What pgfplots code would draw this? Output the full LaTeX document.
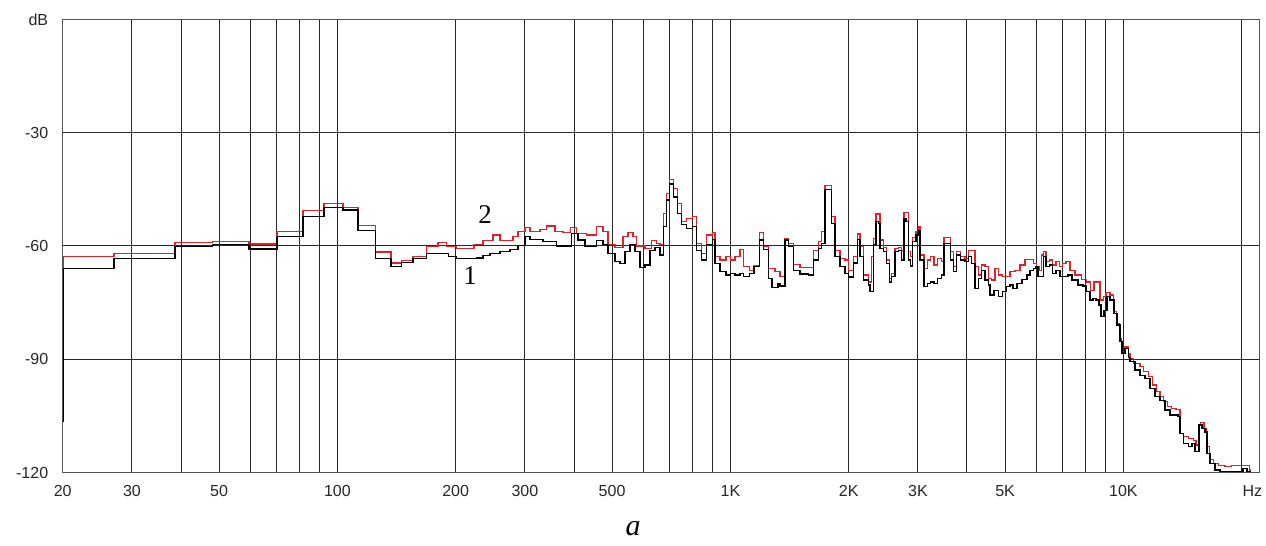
\documentclass[border=0pt]{standalone}
\usepackage{pgfplots}
\pgfplotsset{compat=1.18}
\usepackage{fontspec}
\setmainfont{Liberation Sans}
\newfontfamily\seriffont{Liberation Serif}
\definecolor{cred}{RGB}{220,36,40}
\definecolor{gridc}{RGB}{40,40,40}
\pgfplotstableread{
f db
20 -79
20.1 -62.8
27.0 -61.9
38.6 -59.1
48.2 -58.9
59.6 -59.5
70.2 -56.2
81.7 -50.7
92.5 -48.7
103.3 -49.8
112.8 -54.5
125.0 -61.6
136.9 -64.5
145.8 -63.8
155.7 -62.8
168.7 -60.1
180.3 -59.1
189.8 -60.2
201.2 -60.6
222.6 -59.7
234.7 -58.5
248.9 -57.1
259.3 -58.5
279.8 -57.4
288.1 -56.2
300.2 -55.1
309.1 -56.2
327.8 -55.6
340.9 -54.7
357.9 -56.2
375.1 -56.5
392.4 -55.1
406.4 -56.6
430.9 -57.1
456.9 -54.9
474.1 -56.2
488.2 -59.7
508.6 -60.3
533.0 -57.5
548.9 -56.5
565.2 -57.5
577.6 -60.0
606.4 -60.6
630.6 -58.6
649.3 -59.3
662.0 -59.7
674.9 -51.4
688.5 -46.1
699.1 -42.4
715.6 -44.7
732.6 -48.7
751.8 -53.6
774.1 -52.7
801.8 -52.2
820.8 -59.3
845.2 -61.9
870.4 -57.1
901.5 -56.5
913.7 -62.8
940.9 -63.7
974.5 -62.7
1001.8 -63.7
1027.3 -62.8
1057.8 -60.9
1078.5 -65.5
1117.1 -66.4
1148.3 -65.3
1184.5 -56.5
1212.6 -60.2
1248.6 -65.9
1298.7 -66.8
1337.3 -68.1
1377.1 -58.0
1404.0 -59.3
1445.7 -64.8
1503.6 -65.7
1625.4 -61.1
1673.7 -58.9
1707.4 -56.2
1740.7 -43.9
1810.4 -52.2
1845.8 -61.1
1900.6 -63.3
1957.1 -63.7
1995.3 -66.4
2054.6 -62.8
2103.3 -56.8
2136.8 -60.2
2178.6 -67.7
2243.3 -69.5
2288.4 -62.8
2310.0 -58.0
2346.8 -51.5
2402.4 -58.4
2449.4 -60.3
2498.6 -63.7
2537.0 -68.6
2572.9 -67.2
2623.1 -60.6
2674.3 -60.3
2728.1 -61.1
2765.1 -51.2
2835.6 -61.5
2875.8 -62.8
2909.7 -57.7
2966.5 -56.2
3006.8 -54.9
3036.9 -62.4
3108.9 -65.9
3169.6 -63.7
3233.3 -62.8
3296.5 -65.0
3360.8 -63.3
3448.6 -64.2
3495.3 -57.7
3635.3 -61.5
3691.1 -65.5
3765.4 -61.5
3854.7 -62.8
3953.0 -63.3
4030.1 -61.1
4191.5 -65.5
4273.3 -67.7
4359.3 -65.0
4444.3 -65.5
4531.1 -68.6
4622.2 -69.0
4712.4 -65.9
4804.5 -67.7
4929.9 -68.1
5145.4 -66.8
5298.3 -66.4
5455.8 -65.0
5617.9 -63.5
5897.8 -64.6
6016.6 -65.5
6109.0 -66.4
6195.6 -62.4
6253.9 -61.5
6353.6 -64.2
6477.7 -63.7
6608.0 -65.0
6737.0 -64.2
6868.6 -65.5
7006.6 -64.6
7143.4 -64.2
7312.8 -66.4
7530.2 -67.7
7831.7 -68.8
8064.5 -69.5
8255.5 -71.7
8416.8 -69.5
8718.0 -74.3
8888.2 -73.4
9029.9 -72.4
9244.0 -73.0
9424.5 -77.4
9614.0 -80.5
9761.6 -84.4
9900.0 -88.0
10093.7 -86.7
10290.8 -88.6
10394 -89.7
10597 -91.0
11021 -91.9
11236 -93.3
11570 -94.6
11872 -96.8
12154 -98.6
12391 -99.9
12633 -101.2
12933 -102.5
13270 -103.0
13609 -103.2
13931 -109.6
14203 -110.5
14626 -110.9
15061 -111.4
15301 -112.7
15509 -107.4
15728 -106.8
16035 -108.3
16291 -113.1
16541 -116.6
16933 -117.5
17437 -118.0
18134 -118.4
18860 -118.0
20594 -118.0
20910 -119.3
21120 -119.3
}\redtable
\pgfplotstableread{
f db
20 -106.5
20.1 -65.9
27.0 -63.3
38.6 -60.2
48.2 -59.7
59.6 -60.8
70.2 -57.4
81.7 -52.2
92.5 -49.9
103.3 -50.5
112.8 -55.8
125.0 -63.4
136.9 -65.5
145.8 -64.4
155.7 -63.4
168.7 -61.9
191.9 -62.8
200.4 -63.4
226.2 -63.2
234.7 -62.5
244.5 -61.9
259.3 -61.4
274.9 -60.9
288.1 -59.8
300.2 -57.5
309.1 -58.2
333.6 -58.9
361.4 -60.0
394.7 -56.6
409.5 -58.4
426.6 -60.2
456.9 -58.6
474.1 -59.7
488.2 -61.9
508.6 -64.2
523.7 -64.6
539.3 -61.5
555.3 -59.7
571.9 -61.5
588.9 -65.7
606.4 -65.0
624.4 -61.1
642.9 -60.3
662.0 -62.4
674.9 -54.9
688.5 -47.8
699.1 -43.6
715.6 -47.0
732.6 -51.4
751.8 -54.4
774.1 -55.3
801.8 -54.9
820.8 -61.2
845.2 -63.7
870.4 -59.7
901.5 -58.2
913.7 -64.6
940.9 -66.8
974.5 -67.7
1001.8 -67.2
1027.3 -67.7
1057.8 -67.2
1078.5 -68.1
1117.1 -67.2
1148.3 -65.5
1184.5 -58.4
1212.6 -60.9
1248.6 -68.6
1276.0 -71.0
1321.7 -69.9
1337.3 -70.6
1377.1 -58.4
1404.0 -60.2
1445.7 -66.4
1503.6 -67.4
1578.5 -67.7
1625.4 -63.7
1673.7 -60.6
1707.4 -59.3
1740.7 -45.0
1810.4 -54.0
1845.8 -62.8
1900.6 -65.5
1957.1 -67.2
1995.3 -68.2
2054.6 -64.5
2103.3 -58.2
2136.8 -62.8
2178.6 -69.0
2243.3 -70.3
2265.8 -72.1
2310.0 -59.7
2346.8 -53.6
2378.7 -54.0
2402.4 -60.6
2449.4 -61.5
2498.6 -64.6
2537.0 -69.5
2572.9 -68.1
2623.1 -61.5
2674.3 -61.1
2728.1 -63.7
2765.1 -52.7
2797.7 -53.6
2835.6 -63.7
2875.8 -65.3
2909.7 -58.9
2966.5 -57.1
3006.8 -55.8
3036.9 -63.7
3108.9 -70.8
3169.6 -69.9
3233.3 -69.5
3296.5 -69.9
3360.8 -68.6
3448.6 -67.7
3495.3 -59.3
3635.3 -63.7
3691.1 -66.8
3765.4 -62.4
3854.7 -63.7
3953.0 -64.2
4030.1 -62.8
4111.3 -64.6
4191.5 -71.2
4273.3 -68.6
4359.3 -66.4
4444.3 -69.0
4531.1 -70.3
4576.5 -73.0
4684.9 -71.7
4804.5 -73.4
4929.9 -72.1
5046.8 -70.8
5145.4 -70.3
5236.6 -71.2
5360.8 -69.9
5520.1 -68.8
5684.1 -67.7
5785.0 -66.5
5897.8 -65.9
5992.0 -65.5
6062.6 -68.1
6253.9 -62.8
6353.6 -65.5
6477.7 -65.0
6608.0 -67.2
6737.0 -66.4
6896.6 -68.1
7227.6 -67.7
7398.9 -69.0
7663.7 -70.3
7891.5 -70.6
8031.5 -72.1
8221.8 -74.3
8367.7 -73.8
8516.0 -74.3
8667.1 -75.6
8769.3 -78.7
8924.7 -77.0
9082.8 -73.4
9244.0 -74.3
9463.0 -77.8
9631.0 -80.9
9801.7 -85.3
9917.5 -88.4
10093.7 -87.1
10290.8 -89.5
10394 -90.5
10703 -92.8
11021 -94.2
11349 -95.0
11686 -97.7
12033 -99.9
12391 -100.8
12760 -103.4
13139 -104.7
13769 -105.2
13931 -109.6
14203 -112.2
14626 -113.1
14947 -112.2
15212 -114.4
15573 -107.4
15848 -108.3
16129 -109.2
16319 -114.9
16609 -117.5
17103 -119.3
17611 -119.7
20152 -118.8
20630 -119.7
21120 -119.7
}\blacktable
\begin{document}
\begin{tikzpicture}
\useasboundingbox (-62.7pt,-73.3pt) rectangle (1203.3pt,472.7pt);
\begin{axis}[
  at={(0pt,0pt)}, anchor=south west,
  scale only axis, width=1196.3pt, height=453.4pt,
  xmode=log, xmin=20, xmax=22140, ymin=-120, ymax=0,
  xtick={20,30,50,100,200,300,500,1000,2000,3000,5000,10000},
  xticklabels={20,30,50,100,200,300,500,1K,2K,3K,5K,10K},
  minor xtick={40,60,70,80,90,400,600,700,800,900,4000,6000,7000,8000,9000,20000},
  extra x ticks={21300}, extra x tick labels={Hz},
  extra x tick style={grid=none},
  ytick={-120,-90,-60,-30,0}, yticklabels={-120,-90,-60,-30,dB},
  grid=both,
  major grid style={gridc, line width=1pt},
  minor grid style={gridc, line width=1pt},
  axis line style={gridc!80, line width=1pt},
  major tick length=0pt, minor tick length=0pt,
  tick label style={font=\fontsize{16}{16}\selectfont, text=black!85},
  xticklabel style={yshift=-9pt},
  yticklabel style={xshift=-11pt},
]
\addplot[cred, line width=1.25pt, const plot] table[x=f, y=db] {\redtable};
\addplot[black, line width=1.25pt, const plot] table[x=f, y=db] {\blacktable};
\node[font=\seriffont\fontsize{27}{27}\selectfont] at (axis cs:237.5,-51.8) {2};
\node[font=\seriffont\fontsize{27}{27}\selectfont] at (axis cs:217.5,-67.9) {1};
\end{axis}
\node[font=\seriffont\itshape\fontsize{30}{30}\selectfont] at (570.3pt,-56pt) {a};
\end{tikzpicture}
\end{document}
